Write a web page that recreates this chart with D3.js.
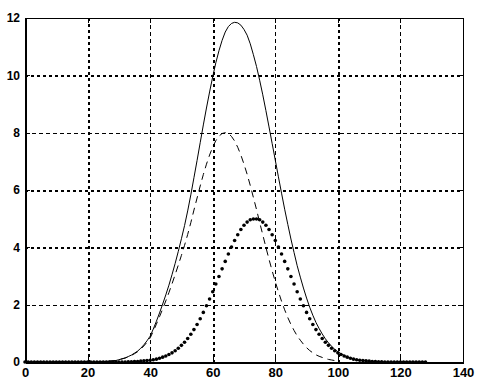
<!DOCTYPE html>
<html>
<head>
<meta charset="utf-8">
<script src="https://cdn.jsdelivr.net/npm/d3@7"></script>
<style>
    html, body { margin: 0; padding: 0; background: #fff; }
    svg { display: block; }
</style>
</head>
<body>
<div id="chart"></div>
<script>
'use strict';

// tick labels
const xTicks = [0, 20, 40, 60, 80, 100, 120, 140];
const yTicks = [0, 2, 4, 6, 8, 10, 12];

// solid curve, one value per x = 0..128
const solidY = [
    0, 0, 0, 0, 0, 0, 0, 0, 0, 0,
    0, 0, 0, 0, 0, 0, 0, 0, 0, 0,
    0, 0, 0, 0, 0, 0.02, 0.02, 0.03, 0.04, 0.05,
    0.08, 0.11, 0.14, 0.19, 0.24, 0.31, 0.38, 0.48, 0.60, 0.74,
    0.90, 1.15, 1.42, 1.71, 2.02, 2.34, 2.68, 3.05, 3.44, 3.86,
    4.30, 4.76, 5.27, 5.83, 6.43, 7.03, 7.65, 8.27, 8.86, 9.42,
    9.95, 10.44, 10.86, 11.22, 11.51, 11.70, 11.81, 11.85, 11.83, 11.75,
    11.60, 11.40, 11.10, 10.72, 10.31, 9.83, 9.32, 8.77, 8.20, 7.62,
    7.04, 6.46, 5.89, 5.33, 4.80, 4.29, 3.82, 3.36, 2.96, 2.58,
    2.23, 1.91, 1.63, 1.38, 1.17, 0.98, 0.81, 0.67, 0.55, 0.44,
    0.36, 0.29, 0.23, 0.18, 0.14, 0.10, 0.08, 0.06, 0.05, 0.04,
    0.03, 0.02, 0.02, 0.01, 0.01, 0, 0, 0, 0, 0,
    0, 0, 0, 0, 0, 0, 0, 0, 0
];

// dashed curve, x = 0..100
const dashedY = [
    0, 0, 0, 0, 0, 0, 0, 0, 0, 0,
    0, 0, 0, 0, 0, 0, 0, 0, 0, 0,
    0, 0, 0, 0, 0, 0.02, 0.02, 0.03, 0.04, 0.05,
    0.08, 0.11, 0.14, 0.18, 0.23, 0.29, 0.36, 0.45, 0.56, 0.69,
    0.84, 1.07, 1.32, 1.58, 1.85, 2.13, 2.42, 2.73, 3.05, 3.38,
    3.72, 4.07, 4.45, 4.86, 5.30, 5.72, 6.14, 6.54, 6.90, 7.22,
    7.50, 7.72, 7.88, 7.97, 8.00, 7.97, 7.87, 7.71, 7.49, 7.22,
    6.90, 6.55, 6.16, 5.74, 5.32, 4.87, 4.44, 4.00, 3.58, 3.18,
    2.80, 2.45, 2.12, 1.82, 1.55, 1.31, 1.10, 0.91, 0.76, 0.62,
    0.50, 0.40, 0.32, 0.25, 0.20, 0.16, 0.12, 0.09, 0.07, 0.05,
    0.04
];

// dotted (marker) curve, x = 0..128
const dottedY = [
    0, 0, 0, 0, 0, 0, 0, 0, 0, 0,
    0, 0, 0, 0, 0, 0, 0, 0, 0, 0,
    0, 0, 0, 0, 0, 0, 0, 0, 0, 0,
    0, 0, 0, 0.01, 0.01, 0.02, 0.02, 0.03, 0.04, 0.05,
    0.06, 0.08, 0.10, 0.13, 0.17, 0.21, 0.26, 0.32, 0.39, 0.48,
    0.58, 0.69, 0.82, 0.97, 1.13, 1.31, 1.51, 1.73, 1.96, 2.20,
    2.45, 2.72, 2.98, 3.25, 3.51, 3.77, 4.01, 4.24, 4.44, 4.62,
    4.77, 4.88, 4.96, 4.99, 4.99, 4.96, 4.88, 4.77, 4.62, 4.44,
    4.24, 4.01, 3.77, 3.51, 3.25, 2.98, 2.72, 2.45, 2.20, 1.96,
    1.73, 1.51, 1.31, 1.13, 0.97, 0.82, 0.69, 0.58, 0.48, 0.39,
    0.32, 0.26, 0.21, 0.17, 0.13, 0.10, 0.08, 0.06, 0.05, 0.04,
    0.03, 0.02, 0.02, 0.01, 0.01, 0, 0, 0, 0, 0,
    0, 0, 0, 0, 0, 0, 0, 0, 0
];

class CurvePlot {

    constructor(divId, width, height) {
        this.width = width;
        this.height = height;
        this.margin = {top: 18, right: 25, bottom: 24, left: 25};

        this.svg = d3.select('#' + divId).append('svg')
            .attr('width', width)
            .attr('height', height);

        this.x = d3.scaleLinear().domain([0, 140])
            .range([this.margin.left, width - this.margin.right]);
        this.y = d3.scaleLinear().domain([0, 12])
            .range([height - this.margin.bottom, this.margin.top]);

        // grid lines that come out heavier in the picture
        this.heavyX = [20, 60, 100];
        this.heavyY = [4, 6, 10];
    }

    toPoints(values) {
        return values.map(function (v, i) {
            return {x: i, y: v};
        });
    }

    renderGrid() {
        let self = this;
        let grid = this.svg.append('g').attr('class', 'grid')
            .style('shape-rendering', 'crispEdges');

        grid.selectAll('.vgrid').data(xTicks.slice(1, -1))
            .enter().append('line')
            .attr('class', 'vgrid')
            .attr('x1', function (d) { return Math.round(self.x(d)) + 0.5; })
            .attr('x2', function (d) { return Math.round(self.x(d)) + 0.5; })
            .attr('y1', this.y(12))
            .attr('y2', this.y(0))
            .style('stroke', '#000')
            .style('stroke-width', function (d) { return self.heavyX.includes(d) ? 2 : 1; })
            .style('stroke-dasharray', function (d) { return self.heavyX.includes(d) ? '3,3' : '4,3'; });

        grid.selectAll('.hgrid').data(yTicks.slice(1, -1))
            .enter().append('line')
            .attr('class', 'hgrid')
            .attr('y1', function (d) { return Math.round(self.y(d)) + 0.5; })
            .attr('y2', function (d) { return Math.round(self.y(d)) + 0.5; })
            .attr('x1', this.x(0))
            .attr('x2', this.x(140))
            .style('stroke', '#000')
            .style('stroke-width', function (d) { return self.heavyY.includes(d) ? 2 : 1; })
            .style('stroke-dasharray', function (d) { return self.heavyY.includes(d) ? '3,3' : '4,3'; });
    }

    renderAxes() {
        let x0 = this.margin.left;
        let x1 = this.width - this.margin.right;
        let y0 = this.height - this.margin.bottom;
        let y1 = this.margin.top;

        let bottom = this.svg.append('g')
            .attr('transform', 'translate(0,' + y0 + ')')
            .call(d3.axisBottom(this.x).tickValues(xTicks).tickSize(-5).tickSizeOuter(0).tickPadding(6));
        let left = this.svg.append('g')
            .attr('transform', 'translate(' + x0 + ',0)')
            .call(d3.axisLeft(this.y).tickValues(yTicks).tickSize(-5).tickSizeOuter(0).tickPadding(5));
        let top = this.svg.append('g')
            .attr('transform', 'translate(0,' + y1 + ')')
            .call(d3.axisTop(this.x).tickValues(xTicks).tickSize(-5).tickSizeOuter(0).tickFormat(''));
        let right = this.svg.append('g')
            .attr('transform', 'translate(' + x1 + ',0)')
            .call(d3.axisRight(this.y).tickValues(yTicks).tickSize(-5).tickSizeOuter(0).tickFormat(''));

        [bottom, left, top, right].forEach(function (g) {
            g.style('shape-rendering', 'crispEdges');
            g.selectAll('line').style('stroke', '#000').style('stroke-width', 1);
            g.selectAll('text')
                .style('font-family', '"Liberation Sans", Arial, sans-serif')
                .style('font-weight', 'bold')
                .style('fill', '#000');
        });

        bottom.select('.domain').style('stroke-width', 2);
        left.select('.domain').style('stroke-width', 2);
        top.select('.domain').style('stroke-width', 1);
        right.select('.domain').style('stroke-width', 1);

        bottom.selectAll('text').style('font-size', '13px');
        left.selectAll('text').style('font-size', '12px');
    }

    render() {
        let self = this;

        this.renderGrid();

        let line = d3.line()
            .x(function (d) { return self.x(d.x); })
            .y(function (d) { return self.y(d.y); });

        this.svg.append('path')
            .datum(this.toPoints(dashedY))
            .attr('d', line)
            .style('fill', 'none')
            .style('stroke', '#000')
            .style('stroke-width', 1)
            .style('stroke-dasharray', '7,5');

        this.svg.append('path')
            .datum(this.toPoints(solidY))
            .attr('d', line)
            .style('fill', 'none')
            .style('stroke', '#000')
            .style('stroke-width', 1);

        this.svg.append('g').selectAll('.dot')
            .data(this.toPoints(dottedY))
            .enter().append('circle')
            .attr('class', 'dot')
            .attr('cx', function (d) { return self.x(d.x); })
            .attr('cy', function (d) { return self.y(d.y); })
            .attr('r', 1.8)
            .style('fill', '#000');

        this.renderAxes();
    }
}

let plot = new CurvePlot('chart', 488, 386);
plot.render();
</script>
</body>
</html>
